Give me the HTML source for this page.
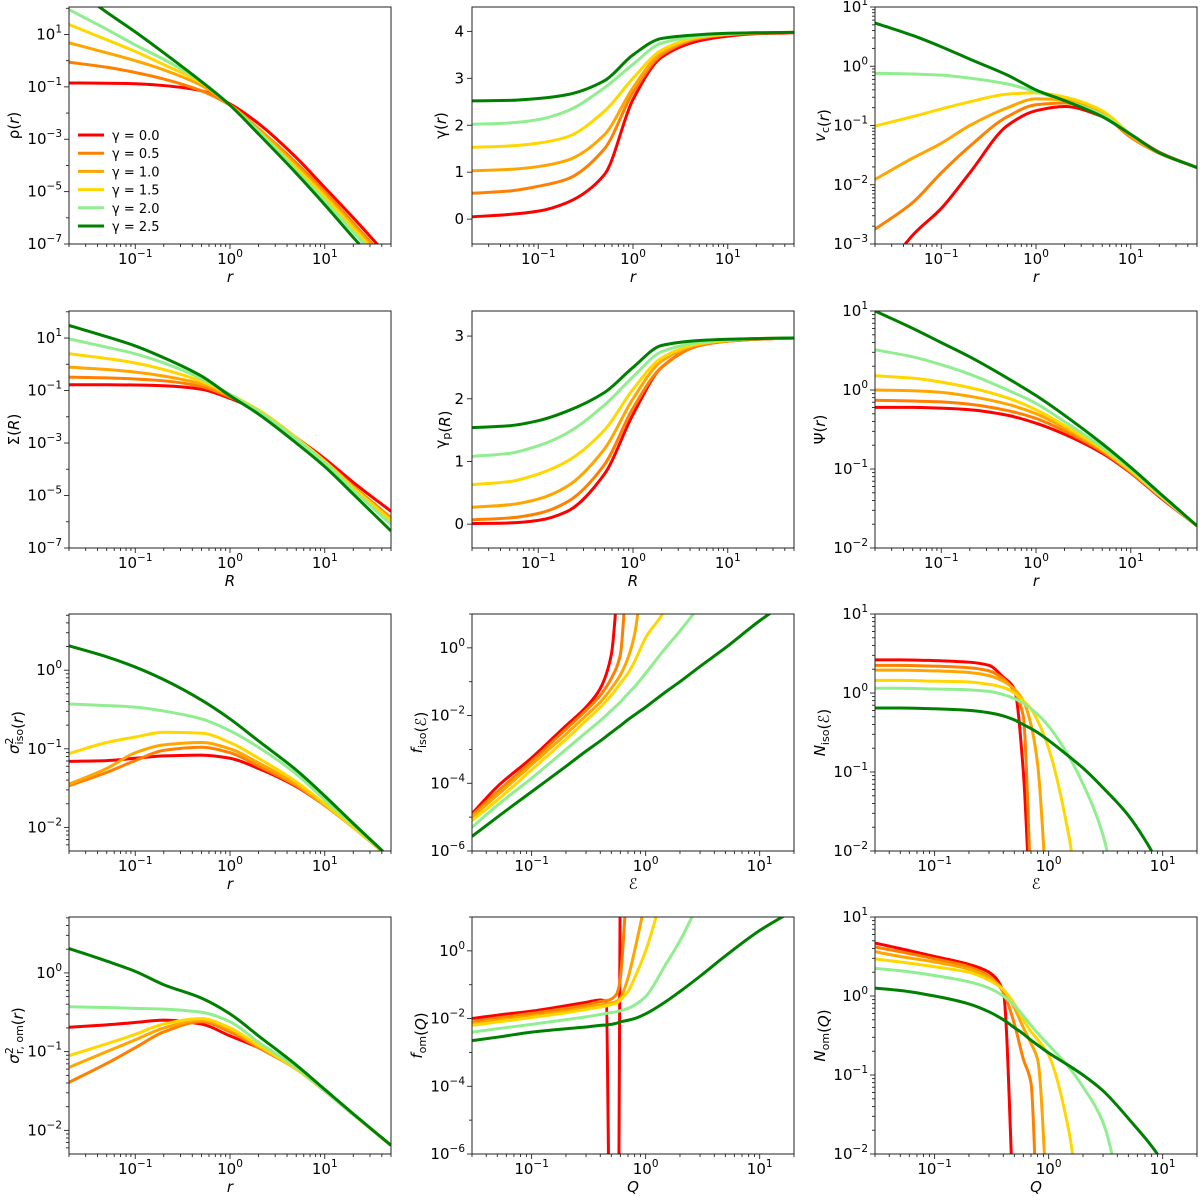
<!DOCTYPE html>
<html><head><meta charset="utf-8"><title>Density profile family panels</title>
<style>
html,body{margin:0;padding:0;background:#fff;}
svg{display:block;}
text{font-family:"DejaVu Sans","Liberation Sans",sans-serif;fill:#000;}
</style></head>
<body>
<svg id="fig" xmlns="http://www.w3.org/2000/svg" width="1200" height="1196" viewBox="0 0 1200 1196"></svg>
<script>
// ---------- DATA (y for log panels are log10 values) ----------
const gammaLabels = ["γ = 0.0","γ = 0.5","γ = 1.0","γ = 1.5","γ = 2.0","γ = 2.5"];
const xsR = [0.02,0.05,0.1,0.2,0.5,1,2,5,10,20,50];
const xsE = [0.03,0.05,0.1,0.2,0.3,0.4,0.5,0.6,0.7,0.8,1,1.5,2,3,5,10,20];
const xsQ = [0.03,0.05,0.1,0.2,0.3,0.4,0.45,0.48,0.55,0.58,0.6,0.7,0.8,1,1.5,2,3,5,10,20];

// panel 1: rho(r), log10
const rho_g00 = [-0.85,-0.86,-0.88,-0.95,-1.15,-1.65,-2.4,-3.7,-4.85,-6.0,-7.6];
const rho_g05 = [-0.06,-0.25,-0.45,-0.7,-1.15,-1.7,-2.6,-3.9,-5.0,-6.2,-7.8];
const rho_g10 = [0.68,0.3,0.0,-0.35,-0.95,-1.7,-2.6,-4.0,-5.1,-6.3,-7.9];
const rho_g15 = [1.38,0.8,0.35,-0.15,-0.85,-1.7,-2.7,-4.1,-5.2,-6.4,-8.0];
const rho_g20 = [1.95,1.2,0.6,0.05,-0.8,-1.7,-2.7,-4.2,-5.35,-6.55,-8.1];
const rho_g25 = [2.9,1.85,1.1,0.3,-0.8,-1.7,-2.8,-4.3,-5.5,-6.75,-8.3];
// panel 2: gamma(r), linear
const gam_g00 = [0.05,0.1,0.17,0.35,0.95,2.55,3.45,3.8,3.9,3.95,3.97];
const gam_g05 = [0.55,0.6,0.7,0.85,1.5,2.7,3.5,3.85,3.93,3.96,3.98];
const gam_g10 = [1.03,1.06,1.12,1.25,1.8,2.8,3.55,3.87,3.94,3.97,3.98];
const gam_g15 = [1.53,1.56,1.62,1.75,2.3,3.0,3.6,3.88,3.94,3.97,3.98];
const gam_g20 = [2.02,2.05,2.12,2.3,2.8,3.3,3.75,3.9,3.95,3.97,3.98];
const gam_g25 = [2.52,2.53,2.57,2.65,2.95,3.5,3.85,3.93,3.96,3.97,3.98];
// panel 3: v_c(r), log10
const vc_g00 = [-3.7,-2.85,-2.4,-1.8,-1.0,-0.75,-0.68,-0.85,-1.15,-1.45,-1.71];
const vc_g05 = [-2.75,-2.3,-1.8,-1.35,-0.85,-0.65,-0.62,-0.82,-1.2,-1.47,-1.71];
const vc_g10 = [-1.91,-1.55,-1.3,-1.0,-0.7,-0.55,-0.57,-0.8,-1.18,-1.46,-1.71];
const vc_g15 = [-1.01,-0.85,-0.72,-0.6,-0.47,-0.45,-0.52,-0.75,-1.15,-1.46,-1.71];
const vc_g20 = [-0.12,-0.13,-0.15,-0.2,-0.3,-0.43,-0.58,-0.82,-1.15,-1.46,-1.71];
const vc_g25 = [0.73,0.52,0.33,0.12,-0.15,-0.4,-0.58,-0.85,-1.15,-1.46,-1.71];
// panel 4: Sigma(R), log10
const sig_g00 = [-0.78,-0.78,-0.79,-0.82,-0.95,-1.3,-1.8,-2.8,-3.6,-4.5,-5.6];
const sig_g05 = [-0.49,-0.52,-0.56,-0.63,-0.85,-1.25,-1.77,-2.8,-3.68,-4.65,-5.85];
const sig_g10 = [-0.11,-0.2,-0.3,-0.45,-0.75,-1.2,-1.75,-2.8,-3.7,-4.7,-5.9];
const sig_g15 = [0.4,0.22,0.05,-0.2,-0.65,-1.15,-1.75,-2.8,-3.7,-4.7,-5.95];
const sig_g20 = [0.97,0.65,0.4,0.05,-0.55,-1.15,-1.8,-2.85,-3.75,-4.8,-6.1];
const sig_g25 = [1.48,1.05,0.7,0.25,-0.45,-1.2,-1.9,-3.0,-3.9,-4.95,-6.35];
// panel 5: gamma_p(R), linear
const gp_g00 = [0.01,0.02,0.06,0.2,0.8,1.75,2.5,2.85,2.92,2.95,2.97];
const gp_g05 = [0.07,0.1,0.17,0.35,0.95,1.85,2.5,2.85,2.92,2.95,2.97];
const gp_g10 = [0.27,0.31,0.4,0.6,1.2,2.0,2.6,2.87,2.93,2.96,2.97];
const gp_g15 = [0.63,0.68,0.8,1.0,1.5,2.15,2.65,2.88,2.93,2.96,2.97];
const gp_g20 = [1.08,1.13,1.25,1.45,1.9,2.35,2.75,2.9,2.94,2.96,2.97];
const gp_g25 = [1.54,1.57,1.65,1.8,2.1,2.5,2.85,2.93,2.95,2.96,2.97];
// panel 6: Psi(r), log10
const psi_g00 = [-0.22,-0.22,-0.23,-0.25,-0.32,-0.42,-0.56,-0.8,-1.05,-1.35,-1.72];
const psi_g05 = [-0.13,-0.14,-0.15,-0.18,-0.26,-0.36,-0.52,-0.78,-1.04,-1.34,-1.72];
const psi_g10 = [0.0,-0.01,-0.03,-0.08,-0.18,-0.3,-0.48,-0.76,-1.03,-1.33,-1.72];
const psi_g15 = [0.18,0.15,0.1,0.03,-0.1,-0.25,-0.45,-0.75,-1.02,-1.33,-1.72];
const psi_g20 = [0.51,0.42,0.32,0.2,0.0,-0.17,-0.4,-0.72,-1.0,-1.32,-1.72];
const psi_g25 = [1.0,0.78,0.6,0.42,0.15,-0.07,-0.32,-0.68,-0.98,-1.3,-1.72];
// panel 7: sigma^2_iso(r), log10
const siso_g00 = [-1.16,-1.15,-1.12,-1.09,-1.08,-1.12,-1.25,-1.48,-1.72,-2.0,-2.4];
const siso_g05 = [-1.47,-1.3,-1.15,-1.02,-0.98,-1.05,-1.22,-1.47,-1.72,-2.0,-2.4];
const siso_g10 = [-1.45,-1.25,-1.05,-0.95,-0.92,-1.0,-1.18,-1.45,-1.72,-2.0,-2.4];
const siso_g15 = [-1.06,-0.92,-0.85,-0.79,-0.8,-0.92,-1.12,-1.42,-1.7,-2.0,-2.4];
const siso_g20 = [-0.43,-0.45,-0.47,-0.52,-0.62,-0.77,-0.98,-1.32,-1.65,-1.97,-2.4];
const siso_g25 = [0.31,0.17,0.04,-0.12,-0.38,-0.62,-0.9,-1.27,-1.6,-1.95,-2.4];
// panel 8: f_iso(E), log10 (xsE)
const fiso_g00 = [-4.9,-4.1,-3.25,-2.3,-1.75,-1.2,-0.2,3,null,null,null,null,null,null,null,null,null];
const fiso_g05 = [-4.95,-4.25,-3.35,-2.4,-1.85,-1.4,-0.9,-0.2,3,null,null,null,null,null,null,null,null];
const fiso_g10 = [-5.0,-4.35,-3.45,-2.55,-2.0,-1.6,-1.2,-0.8,-0.3,0.4,3,null,null,null,null,null,null];
const fiso_g15 = [-5.1,-4.5,-3.6,-2.7,-2.15,-1.75,-1.4,-1.05,-0.75,-0.4,0.3,1.2,3,null,null,null,null];
const fiso_g20 = [-5.3,-4.65,-3.85,-3.0,-2.5,-2.15,-1.85,-1.6,-1.35,-1.15,-0.75,0.0,0.5,1.3,3,null,null];
const fiso_g25 = [-5.57,-5.0,-4.25,-3.5,-3.05,-2.75,-2.5,-2.3,-2.12,-1.98,-1.75,-1.3,-1.0,-0.55,0.0,0.8,1.5];
// panel 9: N_iso(E), log10 (xsE)
const niso_g00 = [0.42,0.42,0.41,0.39,0.35,0.2,0.05,-1.0,-3,null,null,null,null,null,null,null,null];
const niso_g05 = [0.35,0.35,0.34,0.32,0.28,0.18,0.02,-0.3,-2.5,null,null,null,null,null,null,null,null];
const niso_g10 = [0.29,0.29,0.28,0.26,0.22,0.15,0.05,-0.1,-0.4,-0.9,-3,null,null,null,null,null,null];
const niso_g15 = [0.16,0.16,0.15,0.14,0.11,0.07,0.0,-0.1,-0.2,-0.35,-0.7,-1.8,-3,null,null,null,null];
const niso_g20 = [0.06,0.06,0.05,0.04,0.02,-0.02,-0.07,-0.13,-0.2,-0.27,-0.42,-0.8,-1.15,-1.8,-3.5,null,null];
const niso_g25 = [-0.19,-0.19,-0.2,-0.22,-0.25,-0.29,-0.34,-0.4,-0.45,-0.5,-0.6,-0.8,-0.95,-1.2,-1.55,-2.25,-3.2];
// panel 10: sigma^2_r,om(r), log10
const som_g00 = [-0.69,-0.66,-0.63,-0.6,-0.65,-0.8,-0.95,-1.22,-1.5,-1.8,-2.19];
const som_g05 = [-1.39,-1.15,-0.95,-0.75,-0.62,-0.75,-0.95,-1.22,-1.5,-1.8,-2.19];
const som_g10 = [-1.2,-1.0,-0.85,-0.7,-0.6,-0.72,-0.93,-1.22,-1.5,-1.8,-2.19];
const som_g15 = [-1.05,-0.9,-0.78,-0.65,-0.58,-0.7,-0.92,-1.22,-1.5,-1.8,-2.19];
const som_g20 = [-0.43,-0.44,-0.45,-0.46,-0.5,-0.62,-0.88,-1.2,-1.5,-1.8,-2.19];
const som_g25 = [0.31,0.15,0.02,-0.15,-0.32,-0.52,-0.8,-1.17,-1.48,-1.79,-2.19];
// panel 11: f_om(Q), log10 (xsQ)
const fom_g00 = [-2.0,-1.9,-1.78,-1.62,-1.52,-1.45,-1.5,-8,null,-8,3,null,null,null,null,null,null,null,null,null];
const fom_g05 = [-2.1,-1.98,-1.85,-1.7,-1.6,-1.5,-1.47,-1.45,-1.3,-1.1,-0.8,2.5,null,null,null,null,null,null,null,null];
const fom_g10 = [-2.15,-2.05,-1.92,-1.78,-1.68,-1.6,-1.57,-1.55,-1.5,-1.45,-1.4,-0.8,0.0,1.5,null,null,null,null,null,null];
const fom_g15 = [-2.2,-2.1,-1.97,-1.83,-1.73,-1.66,-1.63,-1.6,-1.55,-1.5,-1.45,-1.2,-0.8,0.0,2,null,null,null,null,null];
const fom_g20 = [-2.4,-2.3,-2.17,-2.03,-1.95,-1.88,-1.85,-1.83,-1.8,-1.78,-1.77,-1.7,-1.6,-1.35,-0.4,0.3,1.5,null,null,null];
const fom_g25 = [-2.65,-2.55,-2.4,-2.3,-2.25,-2.2,-2.19,-2.18,-2.14,-2.12,-2.1,-2.05,-2.0,-1.86,-1.5,-1.2,-0.75,-0.15,0.6,1.2];
// panel 12: N_om(Q), log10 (xsE)
const nom_g00 = [0.67,0.6,0.5,0.4,0.3,0.05,-3,null,null,null,null,null,null,null,null,null,null];
const nom_g05 = [0.62,0.56,0.47,0.37,0.25,0.05,-0.35,-0.8,-1.1,-3,null,null,null,null,null,null,null];
const nom_g10 = [0.56,0.5,0.43,0.34,0.23,0.08,-0.15,-0.4,-0.6,-0.8,-3,null,null,null,null,null,null];
const nom_g15 = [0.47,0.43,0.37,0.3,0.2,0.08,-0.1,-0.3,-0.45,-0.55,-0.75,-1.7,-3,null,null,null,null];
const nom_g20 = [0.35,0.32,0.26,0.18,0.1,0.0,-0.12,-0.25,-0.37,-0.47,-0.62,-0.9,-1.15,-1.6,-3,null,null];
const nom_g25 = [0.1,0.07,0.0,-0.1,-0.2,-0.3,-0.4,-0.48,-0.56,-0.62,-0.72,-0.88,-1.0,-1.2,-1.55,-2.1,-3];

// ---------- STYLE / LAYOUT ----------
const colors = ["#ff0000","#ff8000","#ffa500","#ffd700","#90ee90","#008000"];
const colL = [69,472,875], rowT = [7,311,614,917], PW = 322, PH = 237;
const NS = "http://www.w3.org/2000/svg";
const svg = document.getElementById("fig");

function el(tag, attrs, parent){
  const e = document.createElementNS(NS, tag);
  for (const k in attrs) e.setAttribute(k, attrs[k]);
  (parent||svg).appendChild(e);
  return e;
}
function powLabel(parent, x, y, exp, anchor){
  const t = el("text",{x:x,y:y,"font-size":"15","text-anchor":anchor}, parent);
  
  
  const a = el("tspan",{}, t); a.textContent = "10";
  const b = el("tspan",{dy:"-7","font-size":"10.5"}, t); b.textContent = (exp<0?"\u2212":"")+Math.abs(exp);
  return t;
}
function monoPath(p){
  const n=p.length; if(n<2) return "";
  let d="M"+p[0][0].toFixed(2)+","+p[0][1].toFixed(2);
  if(n===2) return d+"L"+p[1][0].toFixed(2)+","+p[1][1].toFixed(2);
  const dx=[],s=[],m=[];
  for(let i=0;i<n-1;i++){dx[i]=p[i+1][0]-p[i][0]; s[i]=(p[i+1][1]-p[i][1])/dx[i];}
  m[0]=s[0]; m[n-1]=s[n-2];
  for(let i=1;i<n-1;i++){
    if(s[i-1]*s[i]<=0) m[i]=0;
    else m[i]=3*(dx[i-1]+dx[i])/((2*dx[i]+dx[i-1])/s[i-1]+(dx[i]+2*dx[i-1])/s[i]);
  }
  for(let i=0;i<n-1;i++){
    const h=dx[i]/3;
    d+="C"+(p[i][0]+h).toFixed(2)+","+(p[i][1]+m[i]*h).toFixed(2)+" "+(p[i+1][0]-h).toFixed(2)+","+(p[i+1][1]-m[i+1]*h).toFixed(2)+" "+p[i+1][0].toFixed(2)+","+p[i+1][1].toFixed(2);
  }
  return d;
}

const panels = [
 {name:"rho-panel",c:0,r:0,xmin:0.02,xmax:50,ylog:true,ymin:-7,ymax:2.05,ymaj:[1,-1,-3,-5,-7],xl:"r",yl:["ρ(",{i:"r"},")"],xs:xsR,ser:[rho_g00,rho_g05,rho_g10,rho_g15,rho_g20,rho_g25],legend:true},
 {name:"gamma-panel",c:1,r:0,xmin:0.02,xmax:50,ylog:false,ymin:-0.53,ymax:4.52,ymaj:[0,1,2,3,4],xl:"r",yl:["γ(",{i:"r"},")"],xs:xsR,ser:[gam_g00,gam_g05,gam_g10,gam_g15,gam_g20,gam_g25]},
 {name:"vc-panel",c:2,r:0,xmin:0.02,xmax:50,ylog:true,ymin:-3,ymax:1,ymaj:[1,0,-1,-2,-3],xl:"r",yl:[{i:"v"},{sub:"c"},"(",{i:"r"},")"],xs:xsR,ser:[vc_g00,vc_g05,vc_g10,vc_g15,vc_g20,vc_g25]},
 {name:"sigma-panel",c:0,r:1,xmin:0.02,xmax:50,ylog:true,ymin:-7,ymax:2.03,ymaj:[1,-1,-3,-5,-7],xl:"R",yl:["Σ(",{i:"R"},")"],xs:xsR,ser:[sig_g00,sig_g05,sig_g10,sig_g15,sig_g20,sig_g25]},
 {name:"gammap-panel",c:1,r:1,xmin:0.02,xmax:50,ylog:false,ymin:-0.38,ymax:3.4,ymaj:[0,1,2,3],xl:"R",yl:["γ",{sub:"p"},"(",{i:"R"},")"],xs:xsR,ser:[gp_g00,gp_g05,gp_g10,gp_g15,gp_g20,gp_g25]},
 {name:"psi-panel",c:2,r:1,xmin:0.02,xmax:50,ylog:true,ymin:-2,ymax:1,ymaj:[1,0,-1,-2],xl:"r",yl:["Ψ(",{i:"r"},")"],xs:xsR,ser:[psi_g00,psi_g05,psi_g10,psi_g15,psi_g20,psi_g25]},
 {name:"sigma2-iso-panel",c:0,r:2,xmin:0.02,xmax:50,ylog:true,ymin:-2.3,ymax:0.715,ymaj:[0,-1,-2],xl:"r",yl:[{i:"σ"},{supsub:["2","iso"]},"(",{i:"r"},")"],xs:xsR,ser:[siso_g00,siso_g05,siso_g10,siso_g15,siso_g20,siso_g25]},
 {name:"f-iso-panel",c:1,r:2,xmin:0.03,xmax:20,ylog:true,ymin:-6,ymax:1,ymaj:[0,-2,-4,-6],xl:"ℰ",yl:[{i:"f"},{sub:"iso"},"(",{i:"ℰ"},")"],xs:xsE,ser:[fiso_g00,fiso_g05,fiso_g10,fiso_g15,fiso_g20,fiso_g25]},
 {name:"n-iso-panel",c:2,r:2,xmin:0.03,xmax:20,ylog:true,ymin:-2,ymax:1,ymaj:[1,0,-1,-2],xl:"ℰ",yl:[{i:"N"},{sub:"iso"},"(",{i:"ℰ"},")"],xs:xsE,ser:[niso_g00,niso_g05,niso_g10,niso_g15,niso_g20,niso_g25]},
 {name:"sigma2-om-panel",c:0,r:3,xmin:0.02,xmax:50,ylog:true,ymin:-2.3,ymax:0.71,ymaj:[0,-1,-2],xl:"r",yl:[{i:"σ"},{supsub:["2","r, om"]},"(",{i:"r"},")"],xs:xsR,ser:[som_g00,som_g05,som_g10,som_g15,som_g20,som_g25]},
 {name:"f-om-panel",c:1,r:3,xmin:0.03,xmax:20,ylog:true,ymin:-6,ymax:1,ymaj:[0,-2,-4,-6],xl:"Q",yl:[{i:"f"},{sub:"om"},"(",{i:"Q"},")"],xs:xsQ,ser:[fom_g00,fom_g05,fom_g10,fom_g15,fom_g20,fom_g25]},
 {name:"n-om-panel",c:2,r:3,xmin:0.03,xmax:20,ylog:true,ymin:-2,ymax:1,ymaj:[1,0,-1,-2],xl:"Q",yl:[{i:"N"},{sub:"om"},"(",{i:"Q"},")"],xs:xsE,ser:[nom_g00,nom_g05,nom_g10,nom_g15,nom_g20,nom_g25]}
];

panels.forEach((P,pi)=>{
  const L=colL[P.c], T=rowT[P.r], B=T+PH, R=L+PW;
  const lx0=Math.log10(P.xmin), lx1=Math.log10(P.xmax);
  const xS = v => L + (Math.log10(v)-lx0)/(lx1-lx0)*PW;
  const yS = v => B - (v-P.ymin)/(P.ymax-P.ymin)*PH;
  const g = el("g",{});
  
  
  const cp = el("clipPath",{id:"clip"+pi}, g);
  el("rect",{x:L,y:T,width:PW,height:PH}, cp);

  // series
  const sg = el("g",{"clip-path":"url(#clip"+pi+")"}, g);
  P.ser.forEach((vals,si)=>{
    let segs=[], cur=[];
    vals.forEach((v,k)=>{
      if(v===null||v===undefined){ if(cur.length) segs.push(cur); cur=[]; }
      else cur.push([xS(P.xs[k]), yS(v)]);
    });
    if(cur.length) segs.push(cur);
    const d = segs.map(monoPath).join(" ");
    const path = el("path",{d:d,fill:"none",stroke:colors[si],"stroke-width":"3","stroke-linejoin":"round"}, sg);
    
    
  });

  // frame
  const fr = el("rect",{x:L,y:T,width:PW,height:PH,fill:"none",stroke:"#222","stroke-width":"1"}, g);
  
  

  // x ticks
  const xt = el("g",{stroke:"#222","stroke-width":"0.9"}, g);
  
  
  for(let d=Math.floor(lx0); d<=Math.ceil(lx1); d++){
    for(let k=1;k<=9;k++){
      const lv=Math.log10(k)+d;
      if(lv<lx0-1e-9||lv>lx1+1e-9) continue;
      const x=L+(lv-lx0)/(lx1-lx0)*PW;
      el("line",{x1:x,x2:x,y1:B,y2:B+(k===1?5:3)}, xt);
      if(k===1) powLabel(g, x, B+20, d, "middle");
    }
  }
  // y ticks
  const yt = el("g",{stroke:"#222","stroke-width":"0.9"}, g);
  
  
  if(P.ylog){
    const fine = (P.ymax-P.ymin)<=5;
    for(let d=Math.floor(P.ymin); d<=Math.ceil(P.ymax); d++){
      for(let k=1;k<=9;k++){
        if(k>1 && !fine) continue;
        const lv=Math.log10(k)+d;
        if(lv<P.ymin-1e-9||lv>P.ymax+1e-9) continue;
        const y=yS(lv);
        const major = (k===1 && P.ymaj.indexOf(d)>=0);
        el("line",{x1:L,x2:L-(major?5:3),y1:y,y2:y}, yt);
        if(major) powLabel(g, L-7, y+5, d, "end");
      }
    }
  } else {
    P.ymaj.forEach(v=>{
      const y=yS(v);
      el("line",{x1:L,x2:L-5,y1:y,y2:y}, yt);
      const t=el("text",{x:L-8,y:y+5,"font-size":"15","text-anchor":"end"}, g);
      
      
      t.textContent=String(v);
    });
  }
  // x label
  const xl=el("text",{x:(L+R)/2,y:B+38,"font-size":"15","text-anchor":"middle","font-style":"italic"}, g);
  
  
  xl.textContent=P.xl;
  // y label
  const off = P.ylog ? 50 : 26;
  const yx = L-off, yy=(T+B)/2;
  const yl=el("text",{x:yx,y:yy,"font-size":"15","text-anchor":"middle",transform:"rotate(-90 "+yx+" "+yy+")"}, g);
  
  
  P.yl.forEach(part=>{
    if(typeof part==="string"){ const s=el("tspan",{},yl); s.textContent=part; }
    else if(part.i){ const s=el("tspan",{"font-style":"italic"},yl); s.textContent=part.i; }
    else if(part.sub){ const s=el("tspan",{dy:"4","font-size":"11"},yl); s.textContent=part.sub; const r=el("tspan",{dy:"-4"},yl); r.textContent=""; }
    else if(part.supsub){
      const a=el("tspan",{dy:"-6","font-size":"11"},yl); a.textContent=part.supsub[0];
      const b=el("tspan",{dx:"-7",dy:"10","font-size":"11"},yl); b.textContent=part.supsub[1];
      const r=el("tspan",{dy:"-4"},yl); r.textContent="";
    }
  });

  // legend
  if(P.legend){
    const lg=el("g",{}, g);
    
    
    gammaLabels.forEach((lab,i)=>{
      const y=T+128+i*18.2;
      const e=el("g",{}, lg);
      
      
      el("line",{x1:L+9,x2:L+35,y1:y,y2:y,stroke:colors[i],"stroke-width":"3"}, e);
      const t=el("text",{x:L+43,y:y+5,"font-size":"13"}, e);
      t.textContent=lab;
    });
  }
});
</script>
</body></html>
